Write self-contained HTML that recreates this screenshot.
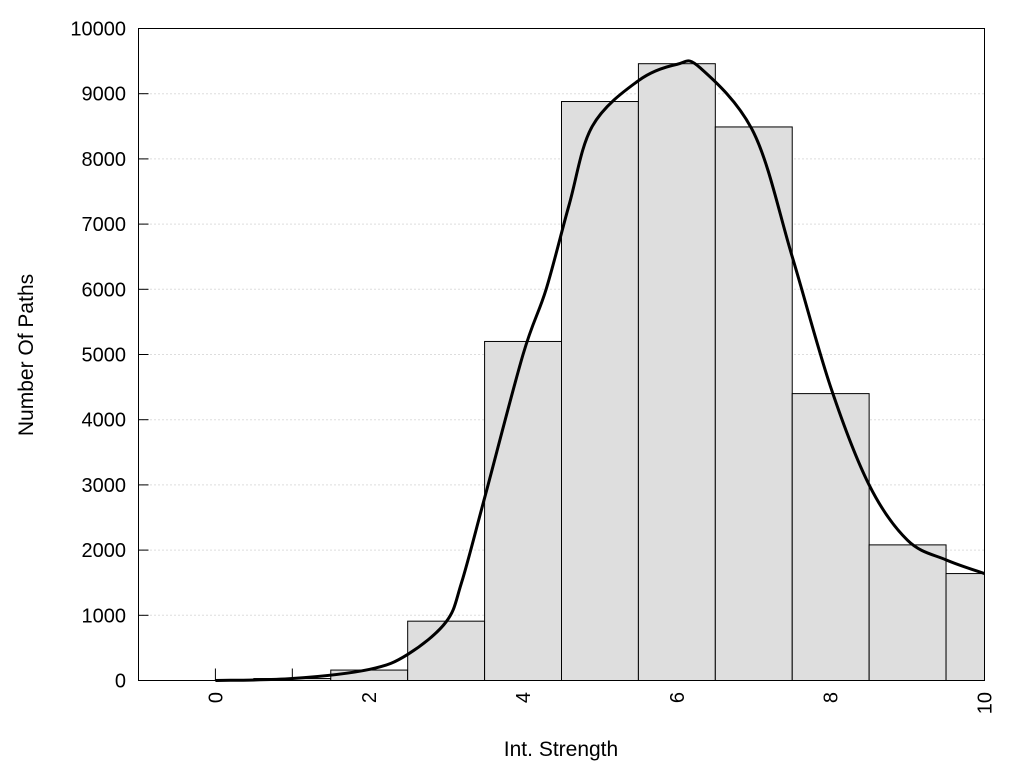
<!DOCTYPE html>
<html><head><meta charset="utf-8"><style>
body{margin:0;background:#fff;}
svg{display:block;font-family:"Liberation Sans",Arial,sans-serif;}
</style></head><body>
<svg id="chart" width="1024" height="768" xmlns="http://www.w3.org/2000/svg">
<g id="grid"></g>
<g id="bars"></g>
<path id="curve" fill="none" stroke="#000" stroke-width="3"/>
<rect x="138.5" y="28.5" width="846" height="652" fill="none" stroke="#000" stroke-width="1"/>
<g id="axes"></g>
<text x="561" y="756" font-size="21" text-anchor="middle">Int. Strength</text>
<text transform="translate(33,355) rotate(-90)" font-size="21" text-anchor="middle">Number Of Paths</text>
</svg>
<script>
const binCenters=[0,1,2,3,4,5,6,7,8,9,10];
const binCounts=[10,30,160,910,5200,8880,9460,8490,4400,2080,1640];
const curveX=[0,1,2,2.5,3,3.2,3.5,4,4.3,4.6,4.9,5.5,6,6.3,7,7.5,8,8.5,9,9.5,10];
const curveY=[0,30,170,400,900,1500,2800,5000,6000,7300,8500,9200,9450,9400,8400,6500,4500,3000,2150,1850,1640];
const yTicks=[0,1000,2000,3000,4000,5000,6000,7000,8000,9000,10000];
const xTicks=[0,2,4,6,8,10];
const X0=138.5,X1=984.5,Y0=680.5,Y1=28.5,xmin=-1,xmax=10,ymax=10000;
const sx=v=>X0+(v-xmin)/(xmax-xmin)*(X1-X0);
const sy=v=>Y0-v/ymax*(Y0-Y1);
const NS="http://www.w3.org/2000/svg";
function mk(t,a,p){const e=document.createElementNS(NS,t);for(const k in a)e.setAttribute(k,a[k]);p.appendChild(e);return e;}
const grid=document.getElementById('grid'),bars=document.getElementById('bars'),axes=document.getElementById('axes');
yTicks.forEach(v=>{
  const y=sy(v);
  if(v>0&&v<ymax){const g=mk('line',{x1:X0,x2:X1,y1:y,y2:y,stroke:'#bbb','stroke-dasharray':'1,3'},grid);
  
  }
  const t=mk('line',{x1:X0,x2:X0+10,y1:y,y2:y,stroke:'#000'},axes);
  
  
  const l=mk('text',{x:126,y:y+7,'font-size':20,'text-anchor':'end'},axes);
  
  
  l.textContent=v;
});
xTicks.forEach(v=>{
  const x=sx(v);
  const l=mk('text',{transform:`translate(${x+7},692) rotate(-90)`,'font-size':20,'text-anchor':'end'},axes);
  
  
  l.textContent=v;
});
[0,1].forEach(v=>{const t=mk('line',{x1:sx(v),x2:sx(v),y1:Y0-12,y2:Y0,stroke:'#000'},axes);
  
  });
binCenters.forEach((c,i)=>{
  const a=Math.max(c-0.5,0),b=Math.min(c+0.5,xmax);
  const r=mk('rect',{x:sx(a),y:sy(binCounts[i]),width:sx(b)-sx(a),height:Y0-sy(binCounts[i]),fill:'#dedede',stroke:'#000','stroke-width':1},bars);
  
  
});
const pts=curveX.map((x,i)=>[sx(x),sy(curveY[i])]);
let d=`M${pts[0][0]},${pts[0][1]}`;
for(let i=0;i<pts.length-1;i++){
  const p0=pts[Math.max(i-1,0)],p1=pts[i],p2=pts[i+1],p3=pts[Math.min(i+2,pts.length-1)];
  const c1=[p1[0]+(p2[0]-p0[0])/6,p1[1]+(p2[1]-p0[1])/6],c2=[p2[0]-(p3[0]-p1[0])/6,p2[1]-(p3[1]-p1[1])/6];
  d+=` C${c1[0]},${c1[1]} ${c2[0]},${c2[1]} ${p2[0]},${p2[1]}`;
}
document.getElementById('curve').setAttribute('d',d);
</script>
</body></html>
